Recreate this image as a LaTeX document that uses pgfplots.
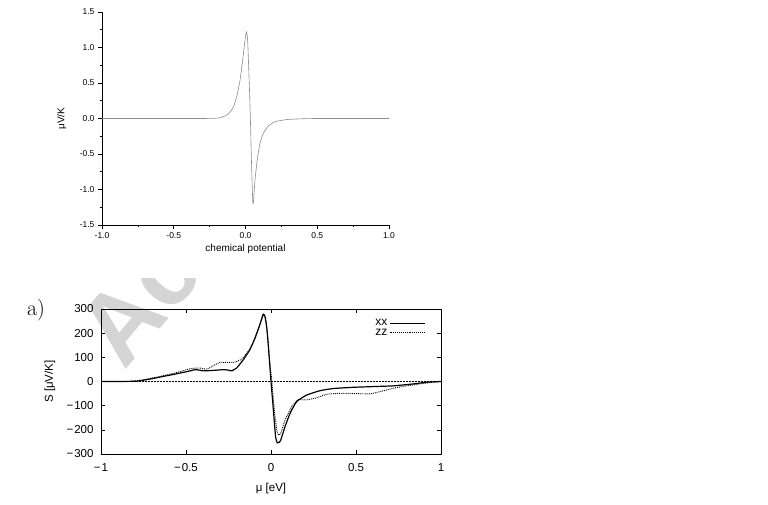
\documentclass[border=0pt]{standalone}
\usepackage{pgfplots}
\pgfplotsset{compat=1.18}
\usepackage{fontspec}
\newfontfamily\arial{Liberation Sans}
\begin{document}
\begin{tikzpicture}[x=1pt,y=1pt]
\path[use as bounding box] (0,0) rectangle (768,504);
% watermark
\begin{scope}
\clip (0,0) rectangle (768,226);
\node[anchor=base west, rotate=50, text=black!17, font=\arial\bfseries\fontsize{100}{100}\selectfont, inner sep=0pt] at (124,132) {Ac};
\end{scope}
% top plot
\begin{axis}[
  at={(102pt,279pt)}, anchor=south west, scale only axis,
  width=287pt, height=213pt,
  xmin=-1, xmax=1, ymin=-1.5, ymax=1.5,
  axis x line*=bottom, axis y line*=left,
  axis line style={line width=0.6pt},
  tick align=outside,
  xtick={-1,-0.5,0,0.5,1}, xticklabels={-1.0,-0.5,0.0,0.5,1.0},
  ytick={-1.5,-1,-0.5,0,0.5,1,1.5}, yticklabels={-1.5,-1.0,-0.5,0.0,0.5,1.0,1.5},
  minor tick num=1,
  major tick length=4pt, minor tick length=2.5pt,
  tick style={black, line width=0.6pt},
  ticklabel style={font=\arial\fontsize{8.5}{10}\selectfont},
  /pgf/number format/assume math mode=true,
  xlabel={chemical potential}, ylabel={μV/K},
  xlabel style={at={(axis description cs:0.5,-0.113)}, anchor=center, font=\arial\fontsize{10}{12}\selectfont},
  ylabel style={at={(axis description cs:-0.14,0.5)}, anchor=center, font=\arial\fontsize{10}{12}\selectfont},
]
\addplot[black!45, line width=0.6pt, smooth, tension=0.3] coordinates {
(-1,0)(-0.3,0)(-0.178,0.01)(-0.12,0.063)(-0.085,0.16)(-0.061,0.31)(-0.038,0.54)(-0.02,0.82)(-0.006,1.06)(0.006,1.22)(0.015,1.1)(0.027,0.45)(0.034,0)(0.04,-0.49)(0.05,-1.15)(0.055,-1.19)(0.066,-0.87)(0.082,-0.58)(0.101,-0.35)(0.124,-0.21)(0.159,-0.106)(0.206,-0.045)(0.287,-0.015)(0.38,-0.005)(0.5,0)(1,0)
};
\end{axis}
% a) label
\node[font=\rmfamily\fontsize{22}{24}\selectfont] at (36,194) {a)};
% bottom plot
\begin{axis}[
  at={(101pt,50pt)}, anchor=south west, scale only axis,
  width=340pt, height=145pt,
  xmin=-1, xmax=1, ymin=-300, ymax=300,
  axis line style={line width=0.6pt},
  tick align=inside,
  xtick={-1,-0.5,0,0.5,1}, xticklabels={−\kern1pt1,−\kern1pt0.5,0,0.5,1},
  ytick={-300,-200,-100,0,100,200,300}, yticklabels={−\kern1pt300,−\kern1pt200,−\kern1pt100,0,100,200,300},
  major tick length=4pt,
  tick style={black, line width=0.6pt},
  ticklabel style={font=\arial\fontsize{11.5}{13}\selectfont},
  yticklabel style={xshift=-4pt},
  xticklabel style={yshift=-6pt},
  /pgf/number format/assume math mode=true,
  xlabel={μ [eV]}, ylabel={S [μV/K]},
  xlabel style={at={(axis description cs:0.5,-0.241)}, anchor=center, font=\arial\fontsize{11.5}{13}\selectfont},
  ylabel style={at={(axis description cs:-0.15,0.5)}, anchor=center, font=\arial\fontsize{11.5}{13}\selectfont},
  legend style={at={(rel axis cs:0.962,0.96)}, anchor=north east, draw=none, fill=none, font=\arial\fontsize{12}{13}\selectfont, row sep=-2pt},
  legend cell align=right, legend plot pos=right,
  legend image code/.code={\draw[#1, line width=0.6pt] (0pt,0pt) -- (35pt,0pt);},
]
\addplot[black, densely dotted, line width=0.5pt, forget plot] coordinates {(-1,0)(1,0)};
\addplot[black, line width=1.2pt, smooth, tension=0.3] coordinates {
(-1,0)(-0.9,0)(-0.8,1)(-0.77,3)(-0.712,10)(-0.634,21)(-0.555,32)(-0.476,44)(-0.447,49)(-0.42,47)(-0.398,44)(-0.339,46)(-0.28,49)(-0.25,47)(-0.231,44)(-0.202,56)(-0.163,90)(-0.124,132)(-0.094,180)(-0.065,236)(-0.045,278)(-0.035,268)(-0.025,225)(-0.016,150)(-0.008,75)(0,0)(0.014,-118)(0.027,-229)(0.037,-254)(0.047,-252)(0.057,-243)(0.082,-188)(0.112,-132)(0.151,-83)(0.21,-56)(0.288,-38)(0.367,-29)(0.484,-24)(0.602,-21)(0.72,-18)(0.837,-10)(0.916,-3)(1,0)
};
\addlegendentry{xx}
\addplot[black, densely dotted, line width=0.9pt, smooth, tension=0.3] coordinates {
(-1,0)(-0.85,0)(-0.78,4)(-0.673,18)(-0.555,37)(-0.476,53)(-0.418,56)(-0.378,51)(-0.329,69)(-0.3,79)(-0.222,79)(-0.172,93)(-0.124,135)(-0.094,180)(-0.065,238)(-0.047,280)(-0.035,268)(-0.02,190)(-0.01,100)(0.005,0)(0.02,-120)(0.035,-205)(0.047,-222)(0.06,-210)(0.082,-160)(0.122,-104)(0.16,-76)(0.21,-76)(0.27,-67)(0.327,-53)(0.405,-49)(0.504,-50)(0.582,-51)(0.641,-42)(0.72,-28)(0.798,-18)(0.876,-10)(0.955,-3)(1,0)
};
\addlegendentry{zz}
\end{axis}
\end{tikzpicture}
\end{document}
